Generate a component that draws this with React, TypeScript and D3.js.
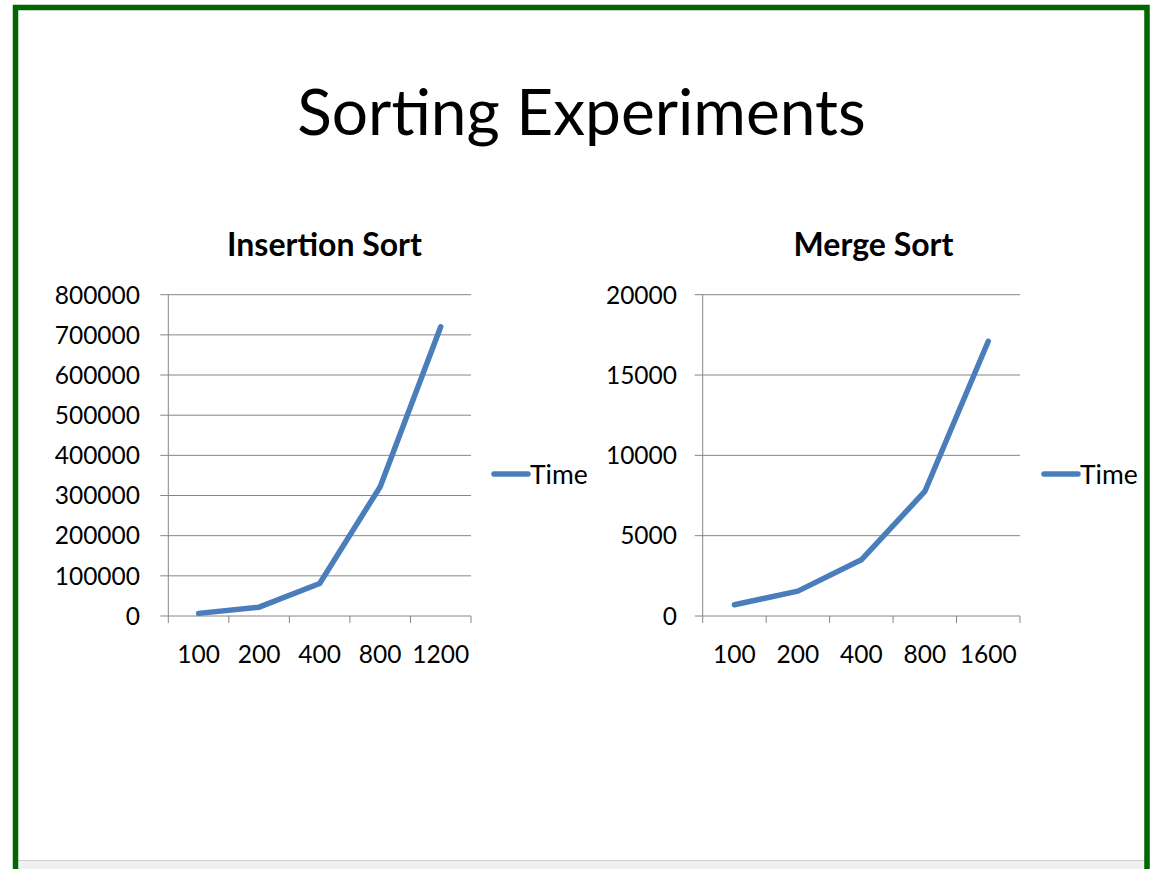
import React from 'react';
import * as d3 from 'd3';

const insertionSizes = ['100', '200', '400', '800', '1200'];
const insertionTimes = [6500, 22000, 81000, 322000, 720000];
const insertionTicks = [0, 100000, 200000, 300000, 400000, 500000, 600000, 700000, 800000];

const mergeSizes = ['100', '200', '400', '800', '1600'];
const mergeTimes = [700, 1550, 3500, 7750, 17100];
const mergeTicks = [0, 5000, 10000, 15000, 20000];

const seriesName = 'Time';
const FONT = 'Lato, "Open Sans", sans-serif';
const LINE = '#4a7ebb';
const GRID = '#868686';

type ChartProps = {
  title: string;
  titleX: number;
  cats: string[];
  vals: number[];
  ticks: number[];
  x0: number;
  x1: number;
  labelRight: number;
  legendX: number;
};

function Chart({ title, titleX, cats, vals, ticks, x0, x1, labelRight, legendX }: ChartProps) {
  const yTop = 294.7;
  const yBot = 616;
  const x = d3.scaleBand<string>().domain(cats).range([x0, x1]).padding(0);
  const y = d3.scaleLinear().domain([0, ticks[ticks.length - 1]]).range([yBot, yTop]);
  const line = d3
    .line<number>()
    .x((_, i) => (x(cats[i]) as number) + x.bandwidth() / 2)
    .y((d) => y(d));
  const boundaries = cats.map((c) => x(c) as number).concat([x1]);
  return (
    <g>
      <text x={titleX} y={256} textAnchor="middle" fontFamily={FONT} fontWeight="bold" fontSize={32} fill="#000">
        {title}
      </text>
      {ticks.map((t) => (
        <g key={t}>
          <line x1={x0 - 8} x2={x1} y1={y(t)} y2={y(t)} stroke={GRID} strokeWidth={1} />
          <text x={labelRight} y={y(t)} dy="0.36em" textAnchor="end" fontFamily={FONT} fontSize={24.5} fill="#000">
            {t}
          </text>
        </g>
      ))}
      <line x1={x0} x2={x0} y1={yTop} y2={yBot} stroke={GRID} strokeWidth={1} />
      {boundaries.map((b, i) => (
        <line key={i} x1={b} x2={b} y1={yBot} y2={yBot + 7} stroke={GRID} strokeWidth={1} />
      ))}
      {cats.map((c) => (
        <text key={c} x={(x(c) as number) + x.bandwidth() / 2} y={663} textAnchor="middle" fontFamily={FONT} fontSize={24.5} fill="#000">
          {c}
        </text>
      ))}
      <path d={line(vals) || ''} fill="none" stroke={LINE} strokeWidth={5.5} strokeLinejoin="round" strokeLinecap="round" />
      <line x1={legendX} x2={legendX + 34} y1={474} y2={474} stroke={LINE} strokeWidth={5.5} strokeLinecap="round" />
      <text x={legendX + 36} y={474} dy="0.36em" fontFamily={FONT} fontSize={26.5} fill="#000">
        {seriesName}
      </text>
    </g>
  );
}

export default function App() {
  return (
    <svg width={1150} height={869} style={{ position: 'absolute', left: 0, top: 0, background: '#fff' }}>
      <rect x={0} y={0} width={1150} height={869} fill="#fff" />
      <rect x={18} y={860} width={1128} height={9} fill="#f0f0f0" />
      <line x1={18} x2={1146} y1={860.5} y2={860.5} stroke="#d0d0d0" strokeWidth={1} />
      <path d="M15.5,869 L15.5,7.5 L1147,7.5 L1147,869" fill="none" stroke="#006600" strokeWidth={5.5} />
      <text x={581.5} y={135} textAnchor="middle" fontFamily={FONT} fontSize={64} fill="#000">
        Sorting Experiments
      </text>
      <Chart
        title="Insertion Sort"
        titleX={324.5}
        cats={insertionSizes}
        vals={insertionTimes}
        ticks={insertionTicks}
        x0={168.3}
        x1={471}
        labelRight={140}
        legendX={494}
      />
      <Chart
        title="Merge Sort"
        titleX={873.5}
        cats={mergeSizes}
        vals={mergeTimes}
        ticks={mergeTicks}
        x0={702.7}
        x1={1020}
        labelRight={677}
        legendX={1044}
      />
    </svg>
  );
}
